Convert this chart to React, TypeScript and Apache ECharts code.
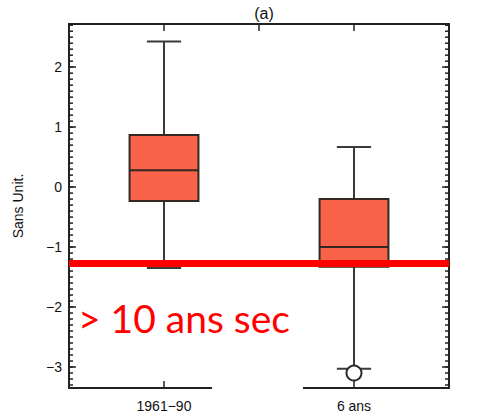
import React, { useEffect, useRef } from "react";
import * as echarts from "echarts";

const categories = ["", "1961−90", "", "6 ans", ""];
// [categoryIndex, min, q1, median, q3, max]
const boxValues = [
  [1, -1.35, -0.23, 0.28, 0.87, 2.43],
  [3, -3.03, -1.33, -1.0, -0.2, 0.67],
];
const outliers = [[3, -3.1]];
const threshold = -1.27;
const yTicks = [-3, -2, -1, 0, 1, 2];
const yMin = -3.35;
const yMax = 2.72;
const minorTicks: number[] = [];
for (let i = -33; i <= 27; i++) minorTicks.push(i / 10);

const AXIS = "#222222";
const FONT = "Liberation Sans";
const TXT = "#111111";

export default function App() {
  const ref = useRef<HTMLDivElement>(null);
  useEffect(() => {
    if (!ref.current) return;
    const chart = echarts.init(ref.current, null, { renderer: "svg" });
    const fmt = (v: any) => String(v).replace("-", "\u2212");
    chart.setOption({
      animation: false,
      backgroundColor: "#ffffff",
      title: {
        text: "(a)",
        left: 259,
        textAlign: "center",
        top: 0,
        textStyle: { fontFamily: FONT, fontSize: 16, fontWeight: "normal", color: TXT },
      },
      grid: {
        left: 69,
        right: 32,
        top: 24,
        bottom: 30,
        show: true,
        borderColor: AXIS,
        borderWidth: 2,
        backgroundColor: "transparent",
      },
      xAxis: [
        {
          type: "category",
          data: categories,
          boundaryGap: false,
          position: "bottom",
          axisLine: { show: true, onZero: false, lineStyle: { color: AXIS, width: 2 } },
          axisTick: {
            show: true,
            inside: true,
            length: 7,
            interval: (i: number) => i === 1 || i === 3,
            lineStyle: { color: AXIS, width: 1.5 },
          },
          axisLabel: {
            interval: 0,
            margin: 11,
            fontFamily: FONT,
            fontSize: 14,
            color: TXT,
          },
          splitLine: { show: false },
        },
        {
          type: "category",
          data: categories,
          boundaryGap: false,
          position: "top",
          axisLine: { show: true, onZero: false, lineStyle: { color: AXIS, width: 2 } },
          axisTick: {
            show: true,
            inside: true,
            length: 7,
            interval: (i: number) => i >= 1 && i <= 3,
            lineStyle: { color: AXIS, width: 1.5 },
          },
          axisLabel: { show: false },
          splitLine: { show: false },
        },
      ],
      yAxis: [
        {
          type: "value",
          min: yMin,
          max: yMax,
          position: "left",
          name: "Sans Unit.",
          nameLocation: "middle",
          nameGap: 44,
          nameTextStyle: { fontFamily: FONT, fontSize: 14, color: TXT },
          axisLine: { show: true, onZero: false, lineStyle: { color: AXIS, width: 2 } },
          axisTick: {
            show: true,
            inside: true,
            length: 7,
            customValues: yTicks,
            lineStyle: { color: AXIS, width: 1.5 },
          },
          axisLabel: {
            customValues: yTicks,
            formatter: fmt,
            margin: 7,
            fontFamily: FONT,
            fontSize: 14,
            color: TXT,
          },
          splitLine: { show: false },
        },
        {
          type: "value",
          min: yMin,
          max: yMax,
          position: "right",
          axisLine: { show: true, onZero: false, lineStyle: { color: AXIS, width: 2 } },
          axisTick: {
            show: true,
            inside: true,
            length: 7,
            customValues: yTicks,
            lineStyle: { color: AXIS, width: 1.5 },
          },
          axisLabel: { show: false },
          splitLine: { show: false },
        },
      ],
      series: [
        {
          type: "custom",
          name: "minorTicks",
          silent: true,
          data: minorTicks.map((v) => [0, v]),
          encode: { x: 0, y: 1 },
          renderItem: (params: any, api: any) => {
            const p = api.coord([0, api.value(1)]);
            const cs = params.coordSys;
            const st = { stroke: AXIS, lineWidth: 1.5 };
            return {
              type: "group",
              children: [
                { type: "line", shape: { x1: cs.x, y1: p[1], x2: cs.x + 4, y2: p[1] }, style: st },
                {
                  type: "line",
                  shape: { x1: cs.x + cs.width - 4, y1: p[1], x2: cs.x + cs.width, y2: p[1] },
                  style: st,
                },
              ],
            };
          },
          z: 1,
        },
        {
          type: "custom",
          name: "boxes",
          data: boxValues,
          encode: { x: 0, y: [1, 2, 3, 4, 5] },
          renderItem: (params: any, api: any) => {
            const xi = api.value(0);
            const pMin = api.coord([xi, api.value(1)]);
            const pQ1 = api.coord([xi, api.value(2)]);
            const pMed = api.coord([xi, api.value(3)]);
            const pQ3 = api.coord([xi, api.value(4)]);
            const pMax = api.coord([xi, api.value(5)]);
            const band = api.size([1, 0])[0];
            const bw = band * 0.725;
            const cw = band * 0.36;
            const cx = pMed[0];
            const ls = { stroke: "#3a3a3a", lineWidth: 2 };
            return {
              type: "group",
              children: [
                { type: "line", shape: { x1: cx, y1: pMax[1], x2: cx, y2: pQ3[1] }, style: ls },
                { type: "line", shape: { x1: cx, y1: pQ1[1], x2: cx, y2: pMin[1] }, style: ls },
                { type: "line", shape: { x1: cx - cw / 2, y1: pMax[1], x2: cx + cw / 2, y2: pMax[1] }, style: ls },
                { type: "line", shape: { x1: cx - cw / 2, y1: pMin[1], x2: cx + cw / 2, y2: pMin[1] }, style: ls },
                {
                  type: "rect",
                  shape: { x: cx - bw / 2, y: pQ3[1], width: bw, height: pQ1[1] - pQ3[1] },
                  style: { fill: "#F8634A", stroke: "#332824", lineWidth: 2 },
                },
                {
                  type: "line",
                  shape: { x1: cx - bw / 2, y1: pMed[1], x2: cx + bw / 2, y2: pMed[1] },
                  style: { stroke: "#332824", lineWidth: 2 },
                },
              ],
            };
          },
          z: 2,
          markLine: {
            silent: true,
            symbol: ["none", "none"],
            label: { show: false },
            lineStyle: { color: "#ff0000", width: 7, type: "solid" },
            data: [{ yAxis: threshold }],
            z: 10,
          },
        },
        {
          type: "scatter",
          name: "outliers",
          data: outliers,
          symbol: "circle",
          symbolSize: 15,
          itemStyle: { color: "#ffffff", borderColor: "#2a2a2a", borderWidth: 2, opacity: 1 },
          z: 3,
        },
      ],
      graphic: [
        {
          type: "text",
          left: 78,
          top: 298,
          z: 20,
          style: {
            text: "> 10 ans sec",
            fill: "#ff0000",
            font: "39px Lato",
          },
        },
        {
          type: "rect",
          left: 212,
          top: 384,
          z: 20,
          shape: { width: 91, height: 34 },
          style: { fill: "#ffffff" },
        },
      ],
    });
    return () => chart.dispose();
  }, []);
  return (
    <div
      ref={ref}
      style={{ position: "fixed", left: 0, top: 0, width: 481, height: 418 }}
    />
  );
}
